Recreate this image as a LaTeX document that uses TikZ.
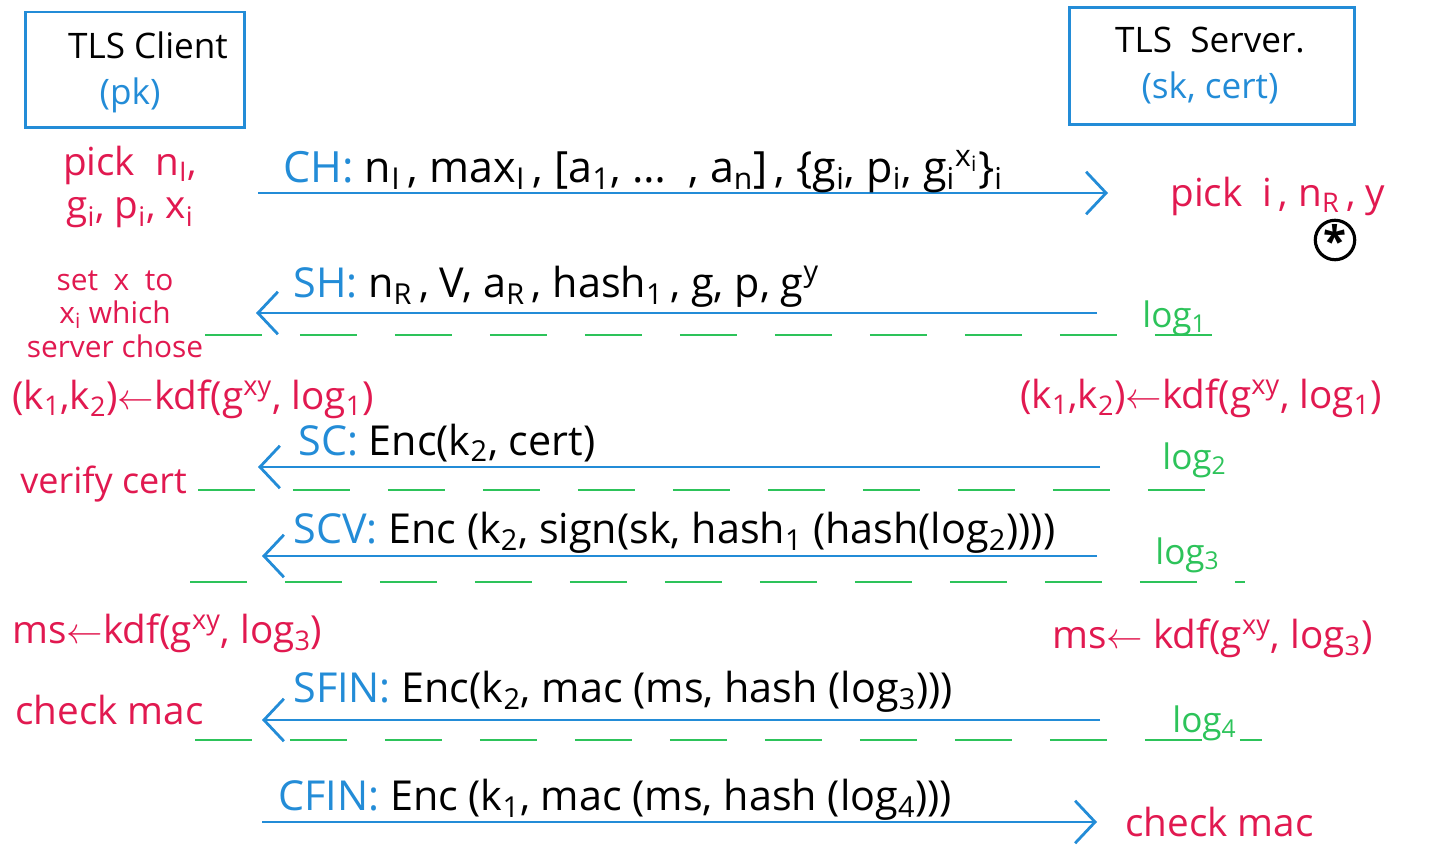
\documentclass[tikz,border=0pt]{standalone}
\usepackage{fontspec}
\setmainfont{Open Sans}
\usetikzlibrary{arrows.meta}
\definecolor{penblue}{RGB}{35,140,215}
\definecolor{penred}{RGB}{225,25,80}
\definecolor{pengreen}{RGB}{45,195,90}
\newcommand\lo[1]{\textsubscript{#1}}
\newcommand\hi[1]{\textsuperscript{#1}}
\begin{document}
\begin{tikzpicture}[x=0.02cm,y=-0.02cm,
  party/.style={draw=penblue,line width=1.7pt,inner sep=0pt},
  msg/.style={draw=penblue,line width=1.6pt,-{Straight Barb[length=0.4cm,width=0.85cm]}},
  logline/.style={draw=pengreen,line width=1.4pt,dash pattern=on 1.15cm off 0.75cm},
  lbl/.style={anchor=west,inner sep=0pt,font=\fontsize{23.5}{26}\selectfont},
  note/.style={anchor=west,inner sep=0pt,text=penred,font=\fontsize{22}{25}\selectfont},
  smallnote/.style={inner sep=0pt,text=penred,align=center,font=\fontsize{17}{19}\selectfont},
  lognote/.style={anchor=west,inner sep=0pt,text=pengreen,font=\fontsize{20}{24}\selectfont},
  starmark/.style={circle,draw,line width=1.8pt,minimum size=0.7cm,inner sep=0pt,font=\fontsize{24}{24}\selectfont\bfseries}]
\useasboundingbox (0,0) rectangle (1430,847);

% parties
\node[party,minimum width=4.4cm,minimum height=2.32cm] (client) at (135,70) {};
\node[font=\fontsize{20}{24}\selectfont] (clientname) at (148,45) {TLS Client};
\node[font=\fontsize{20}{24}\selectfont,text=penblue] (clientkey) at (130,95) {(pk)};
\node[party,minimum width=5.7cm,minimum height=2.34cm] (server) at (1212,66) {};
\node[font=\fontsize{20}{24}\selectfont] (servername) at (1210,40) {TLS\ \ Server.};
\node[font=\fontsize{20}{24}\selectfont,text=penblue] (serverkey) at (1210,88) {(sk, cert)};

% message end points
\coordinate (chL) at (258,193);   \coordinate (chR) at (1108,193);
\coordinate (shR) at (1097,313);  \coordinate (shL) at (256,313);
\coordinate (scR) at (1100,467);  \coordinate (scL) at (258,467);
\coordinate (scvR) at (1097,556); \coordinate (scvL) at (262,556);
\coordinate (sfR) at (1100,720);  \coordinate (sfL) at (262,720);
\coordinate (cfL) at (262,822);   \coordinate (cfR) at (1097,822);

\draw[msg] (chL) -- (chR);
\draw[msg] (shR) -- (shL);
\draw[msg] (scR) -- (scL);
\draw[msg] (scvR) -- (scvL);
\draw[msg] (sfR) -- (sfL);
\draw[msg] (cfL) -- (cfR);

% log separators
\coordinate (g1L) at (205,335); \coordinate (g1R) at (1232,335);
\coordinate (g2L) at (198,490); \coordinate (g2R) at (1240,490);
\coordinate (g3L) at (190,582); \coordinate (g3R) at (1245,582);
\coordinate (g4L) at (195,740); \coordinate (g4R) at (1262,740);
\draw[logline] (g1L) -- (g1R);
\draw[logline] (g2L) -- (g2R);
\draw[logline] (g3L) -- (g3R);
\draw[logline] (g4L) -- (g4R);

% message labels
\node[lbl,font=\fontsize{24.5}{27}\selectfont] (chlbl) at (283,172) {{\color{penblue}CH:} n\lo{I}\,, max\lo{I}\,, [a\lo{1}, \dots\ \ , a\lo{n}]\,, \{g\lo{i}, p\lo{i}, g\lo{i}\hi{x\lo{i}}\}\lo{i}};
\node[lbl] (shlbl) at (293,287) {{\color{penblue}SH:} n\lo{R}\,, V, a\lo{R}\,, hash\lo{1}\,, g, p, g\hi{y}};
\node[lbl] (sclbl) at (298,443) {{\color{penblue}SC:} Enc(k\lo{2}, cert)};
\node[lbl] (scvlbl) at (293,533) {{\color{penblue}SCV:} Enc (k\lo{2}, sign(sk, hash\lo{1} (hash(log\lo{2}))))};
\node[lbl] (sflbl) at (293,692) {{\color{penblue}SFIN:} Enc(k\lo{2}, mac (ms, hash (log\lo{3})))};
\node[lbl] (cflbl) at (278,800) {{\color{penblue}CFIN:} Enc (k\lo{1}, mac (ms, hash (log\lo{4})))};

% client notes
\node[note,align=center,anchor=center] (pickc) at (130,187) {pick\ \ n\lo{I},\\ g\lo{i}, p\lo{i}, x\lo{i}};
\node[smallnote] (setx) at (115,314) {set\ \ x\ \ to\\ x\lo{i} which\\ server chose};
\node[note] (kdfc) at (12,399) {(k\lo{1},k\lo{2})$\leftarrow$kdf(g\hi{xy}, log\lo{1})};
\node[note,font=\fontsize{20.5}{24}\selectfont] (verify) at (20,484) {verify cert};
\node[note] (msc) at (12,633) {ms$\leftarrow$kdf(g\hi{xy}, log\lo{3})};
\node[note] (checkc) at (15,710) {check\ mac};

% server notes
\node[note] (picks) at (1170,196) {pick\ \ i\,, n\lo{R}\,, y};
\node[starmark] (mark) at (1335,240) {\raisebox{-0.25em}{*}};
\node[note] (kdfs) at (1020,398) {(k\lo{1},k\lo{2})$\leftarrow$kdf(g\hi{xy}, log\lo{1})};
\node[note] (mss) at (1052,638) {ms$\leftarrow$ kdf(g\hi{xy}, log\lo{3})};
\node[note] (checks) at (1125,822) {check mac};

% logs
\node[lognote] (log1) at (1142,318) {log\lo{1}};
\node[lognote] (log2) at (1162,460) {log\lo{2}};
\node[lognote] (log3) at (1155,555) {log\lo{3}};
\node[lognote] (log4) at (1172,723) {log\lo{4}};
\end{tikzpicture}
\end{document}
